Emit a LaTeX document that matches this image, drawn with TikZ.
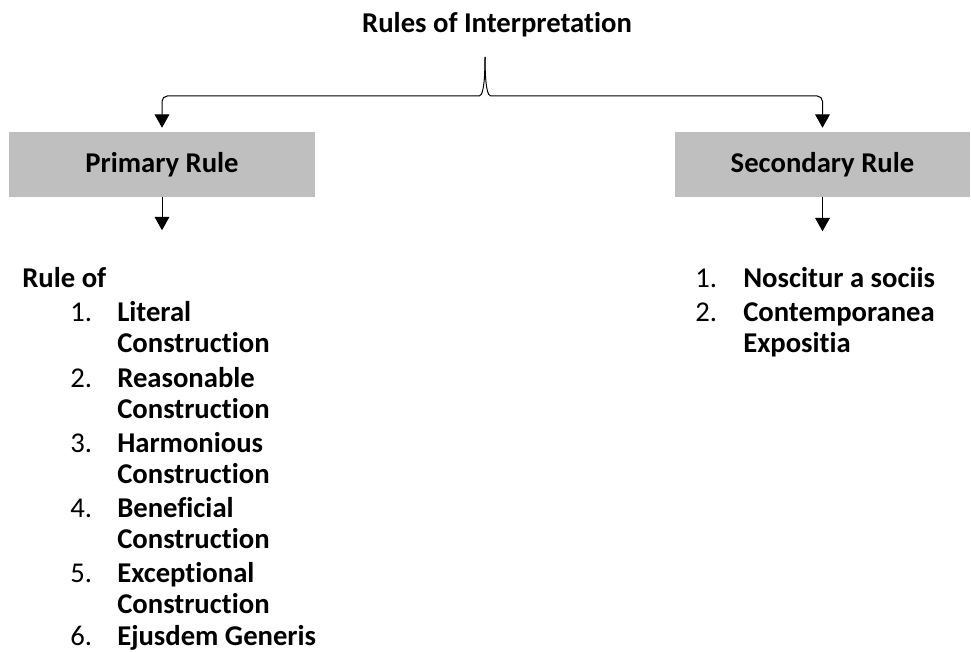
\documentclass[tikz,border=0pt]{standalone}
\usepackage{fontspec}
\setmainfont{Carlito}[Ligatures=NoCommon]
\usetikzlibrary{positioning,arrows.meta}
\definecolor{rulegray}{RGB}{191,191,191}
\tikzset{
	>={Triangle[width=11pt,length=10pt]}
}

\begin{document}
\begin{tikzpicture}[
x = 0.75pt, y = -0.75pt,
every node/.style = {
	font = \fontsize{21.5}{25}\selectfont\bfseries,
	inner sep = 0pt
},
rulebox/.style = {
	fill = rulegray,
	minimum height = 48.75pt
},
item/.style = {
	anchor = base west
},
num/.style = {
	anchor = base west,
	font = \fontsize{21.5}{25}\selectfont
},
link/.style = {
	->,
	line width = 0.75pt
}
]
\useasboundingbox (0,0) rectangle (971,652);

\node (title) [anchor=base] at (497,33) {Rules of Interpretation};

\node (primary) [rulebox, minimum width=229.5pt] at (162,164.5) {Primary Rule};
\node (secondary) [rulebox, minimum width=221.25pt] at (822.5,164.5) {Secondary Rule};

% brace under the title
\coordinate (tip) at (485,57);
\draw[link, rounded corners=4pt, shorten >=3pt] (tip) .. controls (485,88) and (482,96) .. (474,96) -| (primary.north);
\draw[link, rounded corners=4pt, shorten >=3pt] (tip) .. controls (485,88) and (488,96) .. (496,96) -| (secondary.north);

\draw[link] (primary.south) -- ++(0,33);
\draw[link] (secondary.south) -- ++(0,34);

% primary list
\node (ruleof) [item] at (22,288) {Rule of};
\node (n1) [num] at (70,322) {1.};
\node (lit) [item] at (117,322) {Literal};
\node (litc) [item] at (117,353) {Construction};
\node (n2) [num] at (70,387) {2.};
\node (rea) [item] at (117,387) {Reasonable};
\node (reac) [item] at (117,418) {Construction};
\node (n3) [num] at (70,452) {3.};
\node (har) [item] at (117,452) {Harmonious};
\node (harc) [item] at (117,483) {Construction};
\node (n4) [num] at (70,517) {4.};
\node (ben) [item] at (117,517) {Beneficial};
\node (benc) [item] at (117,548) {Construction};
\node (n5) [num] at (70,582) {5.};
\node (exc) [item] at (117,582) {Exceptional};
\node (excc) [item] at (117,613) {Construction};
\node (n6) [num] at (70,645) {6.};
\node (eju) [item] at (117,645) {Ejusdem Generis};

% secondary list
\node (m1) [num] at (695,288) {1.};
\node (nos) [item] at (743,288) {Noscitur a sociis};
\node (m2) [num] at (695,322) {2.};
\node (con) [item] at (743,322) {Contemporanea};
\node (conx) [item] at (743,353) {Expositia};

\end{tikzpicture}
\end{document}
